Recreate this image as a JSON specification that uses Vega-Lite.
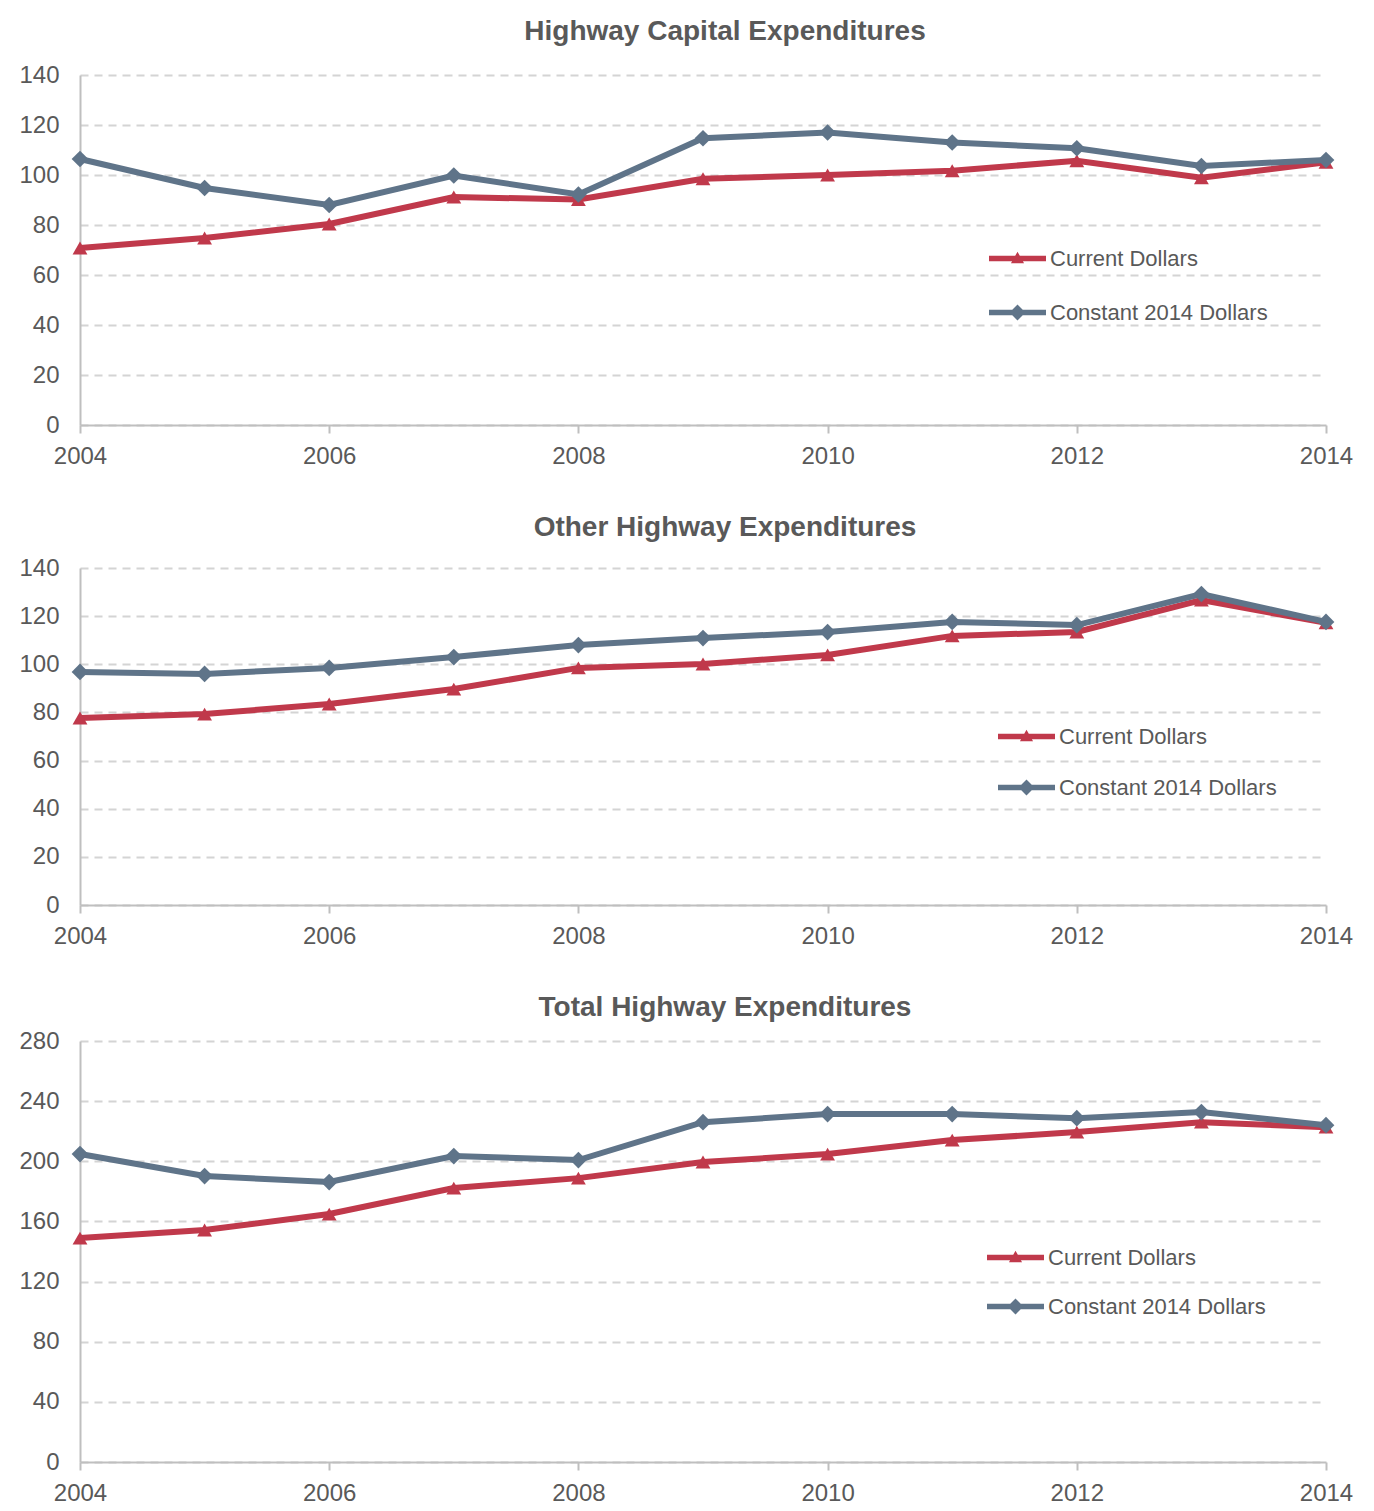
{
  "$schema": "https://vega.github.io/schema/vega-lite/v6.json",
  "background": "white",
  "padding": {"left": 18, "top": 18, "right": 20, "bottom": 0},
  "datasets": {
    "spend": [
      {"panel": "capital", "series": "Current Dollars", "year": 2004, "value": 70.8},
      {"panel": "capital", "series": "Current Dollars", "year": 2005, "value": 74.8},
      {"panel": "capital", "series": "Current Dollars", "year": 2006, "value": 80.4},
      {"panel": "capital", "series": "Current Dollars", "year": 2007, "value": 91.2},
      {"panel": "capital", "series": "Current Dollars", "year": 2008, "value": 90.2},
      {"panel": "capital", "series": "Current Dollars", "year": 2009, "value": 98.5},
      {"panel": "capital", "series": "Current Dollars", "year": 2010, "value": 100},
      {"panel": "capital", "series": "Current Dollars", "year": 2011, "value": 101.7},
      {"panel": "capital", "series": "Current Dollars", "year": 2012, "value": 105.7},
      {"panel": "capital", "series": "Current Dollars", "year": 2013, "value": 98.9},
      {"panel": "capital", "series": "Current Dollars", "year": 2014, "value": 105.1},
      {"panel": "capital", "series": "Constant 2014 Dollars", "year": 2004, "value": 106.4},
      {"panel": "capital", "series": "Constant 2014 Dollars", "year": 2005, "value": 94.8},
      {"panel": "capital", "series": "Constant 2014 Dollars", "year": 2006, "value": 88},
      {"panel": "capital", "series": "Constant 2014 Dollars", "year": 2007, "value": 99.8},
      {"panel": "capital", "series": "Constant 2014 Dollars", "year": 2008, "value": 92.2},
      {"panel": "capital", "series": "Constant 2014 Dollars", "year": 2009, "value": 114.7},
      {"panel": "capital", "series": "Constant 2014 Dollars", "year": 2010, "value": 117},
      {"panel": "capital", "series": "Constant 2014 Dollars", "year": 2011, "value": 113},
      {"panel": "capital", "series": "Constant 2014 Dollars", "year": 2012, "value": 110.7},
      {"panel": "capital", "series": "Constant 2014 Dollars", "year": 2013, "value": 103.6},
      {"panel": "capital", "series": "Constant 2014 Dollars", "year": 2014, "value": 106},
      {"panel": "other", "series": "Current Dollars", "year": 2004, "value": 77.7},
      {"panel": "other", "series": "Current Dollars", "year": 2005, "value": 79.3},
      {"panel": "other", "series": "Current Dollars", "year": 2006, "value": 83.5},
      {"panel": "other", "series": "Current Dollars", "year": 2007, "value": 89.7},
      {"panel": "other", "series": "Current Dollars", "year": 2008, "value": 98.5},
      {"panel": "other", "series": "Current Dollars", "year": 2009, "value": 100.1},
      {"panel": "other", "series": "Current Dollars", "year": 2010, "value": 103.9},
      {"panel": "other", "series": "Current Dollars", "year": 2011, "value": 111.8},
      {"panel": "other", "series": "Current Dollars", "year": 2012, "value": 113.4},
      {"panel": "other", "series": "Current Dollars", "year": 2013, "value": 126.7},
      {"panel": "other", "series": "Current Dollars", "year": 2014, "value": 117.2},
      {"panel": "other", "series": "Constant 2014 Dollars", "year": 2004, "value": 96.8},
      {"panel": "other", "series": "Constant 2014 Dollars", "year": 2005, "value": 96},
      {"panel": "other", "series": "Constant 2014 Dollars", "year": 2006, "value": 98.5},
      {"panel": "other", "series": "Constant 2014 Dollars", "year": 2007, "value": 103},
      {"panel": "other", "series": "Constant 2014 Dollars", "year": 2008, "value": 108},
      {"panel": "other", "series": "Constant 2014 Dollars", "year": 2009, "value": 110.9},
      {"panel": "other", "series": "Constant 2014 Dollars", "year": 2010, "value": 113.4},
      {"panel": "other", "series": "Constant 2014 Dollars", "year": 2011, "value": 117.6},
      {"panel": "other", "series": "Constant 2014 Dollars", "year": 2012, "value": 116.3},
      {"panel": "other", "series": "Constant 2014 Dollars", "year": 2013, "value": 129.2},
      {"panel": "other", "series": "Constant 2014 Dollars", "year": 2014, "value": 117.6},
      {"panel": "total", "series": "Current Dollars", "year": 2004, "value": 148.9},
      {"panel": "total", "series": "Current Dollars", "year": 2005, "value": 154.3},
      {"panel": "total", "series": "Current Dollars", "year": 2006, "value": 164.9},
      {"panel": "total", "series": "Current Dollars", "year": 2007, "value": 182.2},
      {"panel": "total", "series": "Current Dollars", "year": 2008, "value": 188.8},
      {"panel": "total", "series": "Current Dollars", "year": 2009, "value": 199.5},
      {"panel": "total", "series": "Current Dollars", "year": 2010, "value": 204.8},
      {"panel": "total", "series": "Current Dollars", "year": 2011, "value": 214.1},
      {"panel": "total", "series": "Current Dollars", "year": 2012, "value": 219.4},
      {"panel": "total", "series": "Current Dollars", "year": 2013, "value": 226},
      {"panel": "total", "series": "Current Dollars", "year": 2014, "value": 222.7},
      {"panel": "total", "series": "Constant 2014 Dollars", "year": 2004, "value": 204.8},
      {"panel": "total", "series": "Constant 2014 Dollars", "year": 2005, "value": 190.2},
      {"panel": "total", "series": "Constant 2014 Dollars", "year": 2006, "value": 186.2},
      {"panel": "total", "series": "Constant 2014 Dollars", "year": 2007, "value": 203.5},
      {"panel": "total", "series": "Constant 2014 Dollars", "year": 2008, "value": 200.8},
      {"panel": "total", "series": "Constant 2014 Dollars", "year": 2009, "value": 226},
      {"panel": "total", "series": "Constant 2014 Dollars", "year": 2010, "value": 231.4},
      {"panel": "total", "series": "Constant 2014 Dollars", "year": 2011, "value": 231.4},
      {"panel": "total", "series": "Constant 2014 Dollars", "year": 2012, "value": 228.7},
      {"panel": "total", "series": "Constant 2014 Dollars", "year": 2013, "value": 232.7},
      {"panel": "total", "series": "Constant 2014 Dollars", "year": 2014, "value": 224}
    ]
  },
  "data": {"name": "spend"},
  "spacing": 46,
  "resolve": {"scale": {"color": "independent", "y": "independent"}, "legend": {"color": "independent"}},
  "vconcat": [
    {
      "title": {"text": "Highway Capital Expenditures", "dx": 22, "offset": 17},
      "width": 1246,
      "height": 350,
      "transform": [{"filter": "datum.panel === 'capital'"}],
      "encoding": {
        "x": {"field": "year", "type": "quantitative", "title": null, "scale": {"domain": [2004, 2014], "nice": false, "zero": false},
              "axis": {"values": [2004, 2006, 2008, 2010, 2012, 2014], "format": "d"}},
        "y": {"field": "value", "type": "quantitative", "title": null, "scale": {"domain": [0, 140], "nice": false},
              "axis": {"values": [0, 20, 40, 60, 80, 100, 120, 140]}}
      },
      "layer": [
        {
          "transform": [{"filter": "datum.series === 'Current Dollars'"}],
          "mark": {"type": "line", "strokeWidth": 6},
          "encoding": {
            "color": {"field": "series", "type": "nominal",
              "scale": {"domain": ["Current Dollars", "Constant 2014 Dollars"], "range": ["#C0394B", "#5F7489"]},
              "legend": {"orient": "none", "legendX": 909, "legendY": 155, "title": null, "padding": 0, "rowPadding": 14,
                "labelFontSize": 22, "labelColor": "#595959", "labelOffset": 4, "labelLimit": 500, "symbolSize": 3249, "symbolStrokeWidth": 0,
                "encode": {"symbols": {"update": {
                  "shape": {"signal": "datum.value === 'Current Dollars' ? 'M-1,-0.1H1V0.1H-1Z M0,-0.24L0.23,0.17H-0.23Z' : 'M-1,-0.1H1V0.1H-1Z M0,-0.28L0.28,0L0,0.28L-0.28,0Z'"},
                  "fill": {"signal": "datum.value === 'Current Dollars' ? '#C0394B' : '#5F7489'"},
                  "fillOpacity": {"value": 1},
                  "strokeWidth": {"value": 0}}}}}}
          }
        },
        {
          "transform": [{"filter": "datum.series === 'Current Dollars'"}],
          "mark": {"type": "point", "shape": "triangle-up", "filled": true, "opacity": 1, "size": 220, "color": "#C0394B"}
        },
        {
          "transform": [{"filter": "datum.series === 'Constant 2014 Dollars'"}],
          "mark": {"type": "line", "strokeWidth": 6},
          "encoding": {"color": {"field": "series", "type": "nominal",
            "scale": {"domain": ["Current Dollars", "Constant 2014 Dollars"], "range": ["#C0394B", "#5F7489"]}}}
        },
        {
          "transform": [{"filter": "datum.series === 'Constant 2014 Dollars'"}],
          "mark": {"type": "point", "shape": "diamond", "filled": true, "opacity": 1, "size": 280, "color": "#5F7489"}
        }
      ]
    },
    {
      "title": {"text": "Other Highway Expenditures", "dx": 22, "offset": 14},
      "width": 1246,
      "height": 337,
      "transform": [{"filter": "datum.panel === 'other'"}],
      "encoding": {
        "x": {"field": "year", "type": "quantitative", "title": null, "scale": {"domain": [2004, 2014], "nice": false, "zero": false},
              "axis": {"values": [2004, 2006, 2008, 2010, 2012, 2014], "format": "d"}},
        "y": {"field": "value", "type": "quantitative", "title": null, "scale": {"domain": [0, 140], "nice": false},
              "axis": {"values": [0, 20, 40, 60, 80, 100, 120, 140]}}
      },
      "layer": [
        {
          "transform": [{"filter": "datum.series === 'Current Dollars'"}],
          "mark": {"type": "line", "strokeWidth": 6},
          "encoding": {
            "color": {"field": "series", "type": "nominal",
              "scale": {"domain": ["Current Dollars", "Constant 2014 Dollars"], "range": ["#C0394B", "#5F7489"]},
              "legend": {"orient": "none", "legendX": 918, "legendY": 140, "title": null, "padding": 0, "rowPadding": 11,
                "labelFontSize": 22, "labelColor": "#595959", "labelOffset": 4, "labelLimit": 500, "symbolSize": 3249, "symbolStrokeWidth": 0,
                "encode": {"symbols": {"update": {
                  "shape": {"signal": "datum.value === 'Current Dollars' ? 'M-1,-0.1H1V0.1H-1Z M0,-0.24L0.23,0.17H-0.23Z' : 'M-1,-0.1H1V0.1H-1Z M0,-0.28L0.28,0L0,0.28L-0.28,0Z'"},
                  "fill": {"signal": "datum.value === 'Current Dollars' ? '#C0394B' : '#5F7489'"},
                  "fillOpacity": {"value": 1},
                  "strokeWidth": {"value": 0}}}}}}
          }
        },
        {
          "transform": [{"filter": "datum.series === 'Current Dollars'"}],
          "mark": {"type": "point", "shape": "triangle-up", "filled": true, "opacity": 1, "size": 220, "color": "#C0394B"}
        },
        {
          "transform": [{"filter": "datum.series === 'Constant 2014 Dollars'"}],
          "mark": {"type": "line", "strokeWidth": 6},
          "encoding": {"color": {"field": "series", "type": "nominal",
            "scale": {"domain": ["Current Dollars", "Constant 2014 Dollars"], "range": ["#C0394B", "#5F7489"]}}}
        },
        {
          "transform": [{"filter": "datum.series === 'Constant 2014 Dollars'"}],
          "mark": {"type": "point", "shape": "diamond", "filled": true, "opacity": 1, "size": 280, "color": "#5F7489"}
        }
      ]
    },
    {
      "title": {"text": "Total Highway Expenditures", "dx": 22, "offset": 7},
      "width": 1246,
      "height": 421,
      "transform": [{"filter": "datum.panel === 'total'"}],
      "encoding": {
        "x": {"field": "year", "type": "quantitative", "title": null, "scale": {"domain": [2004, 2014], "nice": false, "zero": false},
              "axis": {"values": [2004, 2006, 2008, 2010, 2012, 2014], "format": "d"}},
        "y": {"field": "value", "type": "quantitative", "title": null, "scale": {"domain": [0, 280], "nice": false},
              "axis": {"values": [0, 40, 80, 120, 160, 200, 240, 280]}}
      },
      "layer": [
        {
          "transform": [{"filter": "datum.series === 'Current Dollars'"}],
          "mark": {"type": "line", "strokeWidth": 6},
          "encoding": {
            "color": {"field": "series", "type": "nominal",
              "scale": {"domain": ["Current Dollars", "Constant 2014 Dollars"], "range": ["#C0394B", "#5F7489"]},
              "legend": {"orient": "none", "legendX": 907, "legendY": 188, "title": null, "padding": 0, "rowPadding": 9,
                "labelFontSize": 22, "labelColor": "#595959", "labelOffset": 4, "labelLimit": 500, "symbolSize": 3249, "symbolStrokeWidth": 0,
                "encode": {"symbols": {"update": {
                  "shape": {"signal": "datum.value === 'Current Dollars' ? 'M-1,-0.1H1V0.1H-1Z M0,-0.24L0.23,0.17H-0.23Z' : 'M-1,-0.1H1V0.1H-1Z M0,-0.28L0.28,0L0,0.28L-0.28,0Z'"},
                  "fill": {"signal": "datum.value === 'Current Dollars' ? '#C0394B' : '#5F7489'"},
                  "fillOpacity": {"value": 1},
                  "strokeWidth": {"value": 0}}}}}}
          }
        },
        {
          "transform": [{"filter": "datum.series === 'Current Dollars'"}],
          "mark": {"type": "point", "shape": "triangle-up", "filled": true, "opacity": 1, "size": 220, "color": "#C0394B"}
        },
        {
          "transform": [{"filter": "datum.series === 'Constant 2014 Dollars'"}],
          "mark": {"type": "line", "strokeWidth": 6},
          "encoding": {"color": {"field": "series", "type": "nominal",
            "scale": {"domain": ["Current Dollars", "Constant 2014 Dollars"], "range": ["#C0394B", "#5F7489"]}}}
        },
        {
          "transform": [{"filter": "datum.series === 'Constant 2014 Dollars'"}],
          "mark": {"type": "point", "shape": "diamond", "filled": true, "opacity": 1, "size": 280, "color": "#5F7489"}
        }
      ]
    }
  ],
  "config": {
    "font": "Liberation Sans",
    "view": {"stroke": null},
    "title": {"fontSize": 28, "fontWeight": "bold", "color": "#595959", "anchor": "middle"},
    "axis": {"labelFontSize": 24, "labelColor": "#595959", "domainColor": "#BFBFBF", "domainWidth": 2, "tickColor": "#BFBFBF", "tickWidth": 2},
    "axisX": {"grid": false, "tickSize": 8, "labelPadding": 11, "labelFlush": false},
    "axisY": {"grid": true, "gridDash": [8, 6], "gridColor": "#D4D4D4", "gridWidth": 2, "ticks": false, "labelPadding": 21}
  }
}
